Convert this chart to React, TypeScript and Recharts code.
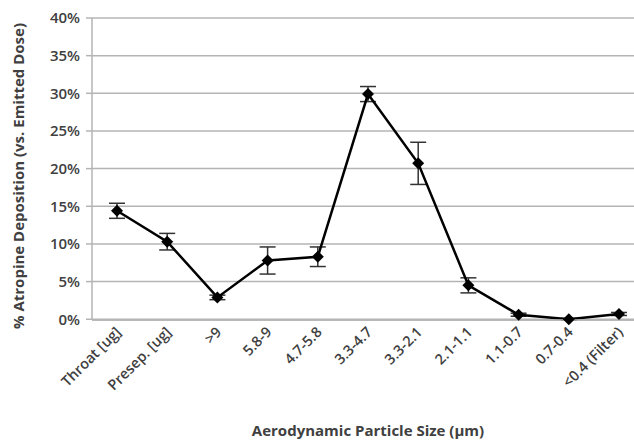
import React from "react";
import { CartesianGrid, ErrorBar, Line, LineChart, XAxis, YAxis } from "recharts";

const sizes = [
  "Throat [ug]",
  "Presep. [ug]",
  ">9",
  "5.8-9",
  "4.7-5.8",
  "3.3-4.7",
  "3.3-2.1",
  "2.1-1.1",
  "1.1-0.7",
  "0.7-0.4",
  "<0.4 (Filter)",
];
const deposition = [14.4, 10.3, 2.9, 7.8, 8.3, 29.9, 20.7, 4.5, 0.6, 0.0, 0.7];
const errors = [1.0, 1.1, 0.3, 1.8, 1.3, 1.0, 2.8, 1.0, 0.2, 0.1, 0.2];
const yTicks = [0, 5, 10, 15, 20, 25, 30, 35, 40];

const data = sizes.map((size, i) => ({ size, value: deposition[i], err: errors[i] }));

const font = "'Open Sans', 'Liberation Sans', sans-serif";

const Diamond = (props: any) => {
  const { cx, cy } = props;
  if (cx == null || cy == null) return null;
  const r = 6;
  return (
    <polygon
      points={`${cx},${cy - r} ${cx + r},${cy} ${cx},${cy + r} ${cx - r},${cy}`}
      fill="#000"
    />
  );
};

const SizeTick = ({ x, y, payload }: any) => (
  <text
    x={x + 5}
    y={y + 5}
    transform={`rotate(-45, ${x + 5}, ${y + 5})`}
    textAnchor="end"
    fontSize={14.5}
    fontWeight={600}
    fill="#404040"
    fontFamily={font}
  >
    {payload.value}
  </text>
);

const YTitle = () => (
  <text
    x={24}
    y={176}
    transform="rotate(-90, 24, 176)"
    textAnchor="middle"
    fontSize={15}
    fontWeight={700}
    fill="#404040"
    fontFamily={font}
  >
    % Atropine Deposition (vs. Emitted Dose)
  </text>
);

export default function App() {
  return (
    <div
      style={{
        position: "fixed",
        left: 0,
        top: 0,
        width: 634,
        height: 440,
        overflow: "hidden",
        background: "#fff",
      }}
    >
      <LineChart
        width={652}
        height={440}
        data={data}
        margin={{ top: 18, right: 8, left: 0, bottom: 0 }}
      >
        <CartesianGrid vertical={false} stroke="#b4b4b4" strokeWidth={1.5} />
        <XAxis
          dataKey="size"
          interval={0}
          height={120}
          padding={{ left: 25, right: 25 }}
          tickLine={false}
          axisLine={{ stroke: "#b4b4b4", strokeWidth: 1.5 }}
          tick={<SizeTick />}
          label={{
            value: "Aerodynamic Particle Size (µm)",
            position: "insideBottom",
            offset: 4,
            fontSize: 15,
            fontWeight: 700,
            fill: "#404040",
            fontFamily: font,
          }}
        />
        <YAxis
          width={92}
          domain={[0, 40]}
          ticks={yTicks}
          tickFormatter={(t) => `${t}%`}
          tickSize={6}
          tickMargin={6}
          tickLine={{ stroke: "#b4b4b4", strokeWidth: 1.5 }}
          axisLine={{ stroke: "#b4b4b4", strokeWidth: 1.5 }}
          tick={{ fontSize: 15, fontWeight: 600, fill: "#404040", fontFamily: font }}
          label={<YTitle />}
        />
        <Line
          type="linear"
          dataKey="value"
          stroke="#000"
          strokeWidth={2.5}
          dot={<Diamond />}
          activeDot={false}
          isAnimationActive={false}
        >
          <ErrorBar dataKey="err" width={8} stroke="#333" strokeWidth={1.5} direction="y" />
        </Line>
      </LineChart>
    </div>
  );
}
